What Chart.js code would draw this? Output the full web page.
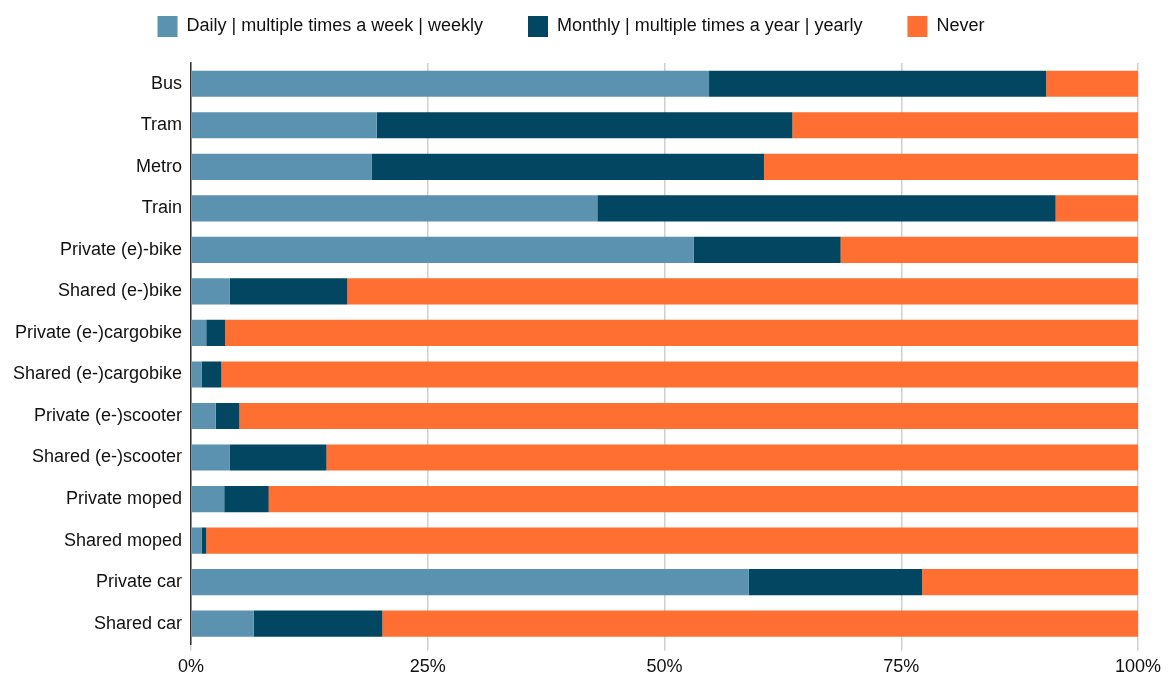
<!DOCTYPE html>
<html>
<head>
<meta charset="utf-8">
<script src="https://cdn.jsdelivr.net/npm/chart.js@4.4.1/dist/chart.umd.min.js"></script>
<style>
  html, body { margin: 0; padding: 0; background: #ffffff; }
  #wrap { width: 1171px; height: 681px; }
</style>
</head>
<body>
<div id="wrap"><canvas id="usageChart" width="1171" height="681"></canvas></div>
<script>
// Modes on the y axis
const modes = [
  "Bus", "Tram", "Metro", "Train", "Private (e)-bike", "Shared (e-)bike",
  "Private (e-)cargobike", "Shared (e-)cargobike", "Private (e-)scooter",
  "Shared (e-)scooter", "Private moped", "Shared moped", "Private car", "Shared car"
]

// Shares in percent
const frequent = [54.7, 19.6, 19.1, 42.9, 53.1, 4.1, 1.6, 1.1, 2.6, 4.1, 3.5, 1.1, 58.9, 6.6]
const occasional = [35.6, 43.9, 41.4, 48.4, 15.5, 12.4, 2.0, 2.1, 2.5, 10.2, 4.7, 0.5, 18.3, 13.6]
const never = [9.7, 36.5, 39.5, 8.7, 31.4, 83.5, 96.4, 96.8, 94.9, 85.7, 91.8, 98.4, 22.8, 79.8]

const xTicks = [0, 25, 50, 75, 100]

const FONT = "'Liberation Sans', Arial, sans-serif"

// leave a bit more room under the legend
const legendGap = {
  id: "legendGap",
  beforeLayout(chart) {
    const legend = chart.legend
    if (!legend || legend._gapPatched) return
    const fit = legend.fit
    legend.fit = function () {
      fit.call(this)
      this.height += 16
    }
    legend._gapPatched = true
  },
}

const ctx = document.getElementById("usageChart").getContext("2d")

new Chart(ctx, {
  type: "bar",
  data: {
    labels: modes,
    datasets: [
      { label: "Daily | multiple times a week | weekly", data: frequent, backgroundColor: "#5a92b0" },
      { label: "Monthly | multiple times a year | yearly", data: occasional, backgroundColor: "#024661" },
      { label: "Never", data: never, backgroundColor: "#ff6f31" },
    ],
  },
  options: {
    indexAxis: "y",
    responsive: false,
    animation: false,
    layout: { padding: { left: 4, right: 33, top: -29, bottom: -3 } },
    datasets: {
      bar: { barPercentage: 0.63, categoryPercentage: 1, borderWidth: 0 },
    },
    scales: {
      x: {
        stacked: true,
        min: 0,
        max: 100,
        afterBuildTicks: (axis) => {
          axis.ticks = xTicks.map((v) => ({ value: v }))
        },
        ticks: {
          callback: (v) => v + "%",
          color: "#111111",
          font: { family: FONT, size: 18 },
          padding: 6,
          maxRotation: 0,
        },
        grid: { color: "#cfcfcf", lineWidth: 1.5, tickLength: 6, drawTicks: true },
        border: { display: false },
      },
      y: {
        stacked: true,
        ticks: {
          color: "#111111",
          font: { family: FONT, size: 18 },
          padding: 9,
        },
        grid: { display: false, drawTicks: false },
        border: { display: true, color: "#333333", width: 1.5 },
      },
    },
    plugins: {
      legend: {
        position: "top",
        labels: {
          boxWidth: 20,
          boxHeight: 21,
          padding: 45,
          color: "#111111",
          font: { family: FONT, size: 18 },
        },
      },
      tooltip: { enabled: false },
    },
  },
  plugins: [legendGap],
})
</script>
</body>
</html>
